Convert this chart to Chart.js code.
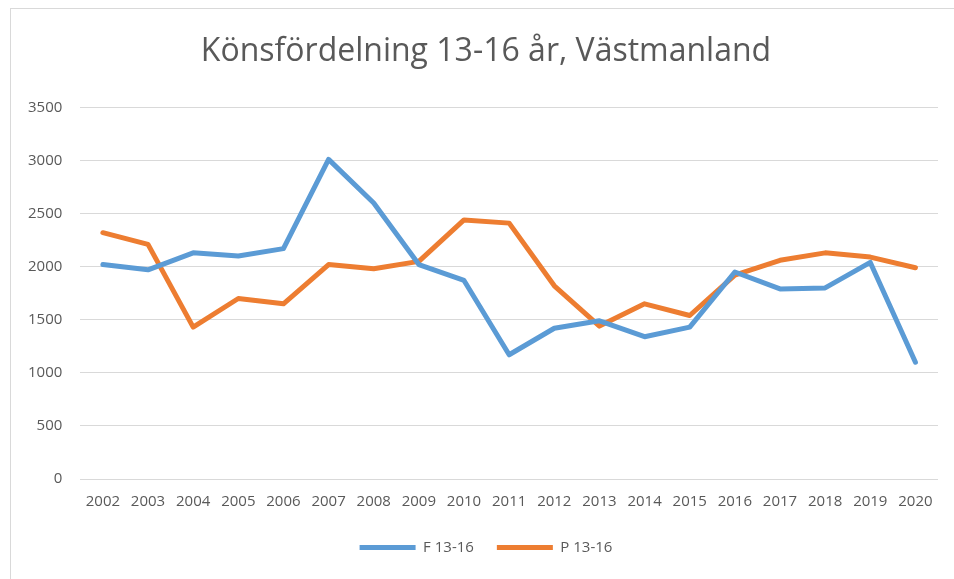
<!DOCTYPE html>
<html><head><meta charset="utf-8">
<script src="https://cdn.jsdelivr.net/npm/chart.js@4/dist/chart.umd.min.js"></script>
<style>html,body{margin:0;padding:0;background:#fff;}#wrap{position:absolute;left:0;top:0;width:954px;height:579px;}</style>
</head><body><div id="wrap"><canvas id="c" width="954" height="579"></canvas></div>
<script>
const years = ['2002','2003','2004','2005','2006','2007','2008','2009','2010','2011','2012','2013','2014','2015','2016','2017','2018','2019','2020'];
const f1316 = [2020,1970,2130,2100,2170,3010,2600,2020,1870,1170,1420,1490,1340,1430,1950,1790,1800,2040,1100];
const p1316 = [2320,2210,1430,1700,1650,2020,1980,2050,2440,2410,1820,1440,1650,1540,1920,2060,2130,2090,1990];
const titleText = 'Könsfördelning 13-16 år, Västmanland';

const frame = {id:'frame', beforeDraw(chart){const c=chart.ctx;c.save();c.fillStyle='#fff';c.fillRect(0,0,chart.width,chart.height);c.strokeStyle='#d9d9d9';c.lineWidth=1;c.strokeRect(10.5,8.5,960,600);c.restore();}};
const centerShift = {id:'centerShift', afterLayout(chart){
  const d = 12;
  if (chart.titleBlock){chart.titleBlock.left += d; chart.titleBlock.right += d;}
  if (chart.legend){chart.legend.left += d; chart.legend.right += d;}
}};
Chart.defaults.font.family = "'Open Sans', sans-serif";
Chart.defaults.color = '#595959';
new Chart(document.getElementById('c'), {
  type:'line',
  data:{labels:years, datasets:[
    {label:'F 13-16', data:f1316, borderColor:'#5b9bd5', backgroundColor:'#5b9bd5', borderWidth:5, pointRadius:0, tension:0, borderCapStyle:'round', borderJoinStyle:'round'},
    {label:'P 13-16', data:p1316, borderColor:'#ed7d31', backgroundColor:'#ed7d31', borderWidth:5, pointRadius:0, tension:0, borderCapStyle:'round', borderJoinStyle:'round'}
  ]},
  options:{responsive:false, animation:false,
    layout:{padding:{left:10,right:16,top:33,bottom:14}},
    plugins:{
      title:{display:true,text:titleText,font:{size:32,weight:'normal'},color:'#595959',padding:{top:0,bottom:36}},
      legend:{position:'bottom',labels:{usePointStyle:true,pointStyle:'line',pointStyleWidth:56,boxHeight:13,font:{size:15},color:'#595959',padding:23},
        onClick:null},
      tooltip:{enabled:false}
    },
    scales:{
      x:{offset:true,grid:{display:false},border:{display:false},ticks:{font:{size:15},color:'#595959',padding:6,maxRotation:0}},
      y:{min:0,max:3500,ticks:{stepSize:500,font:{size:15},color:'#595959',padding:18,callback:v=>String(v)},grid:{color:'#d9d9d9',lineWidth:1,drawTicks:false},border:{display:false}}
    }
  },
  plugins:[frame, centerShift]
});
</script></body></html>
